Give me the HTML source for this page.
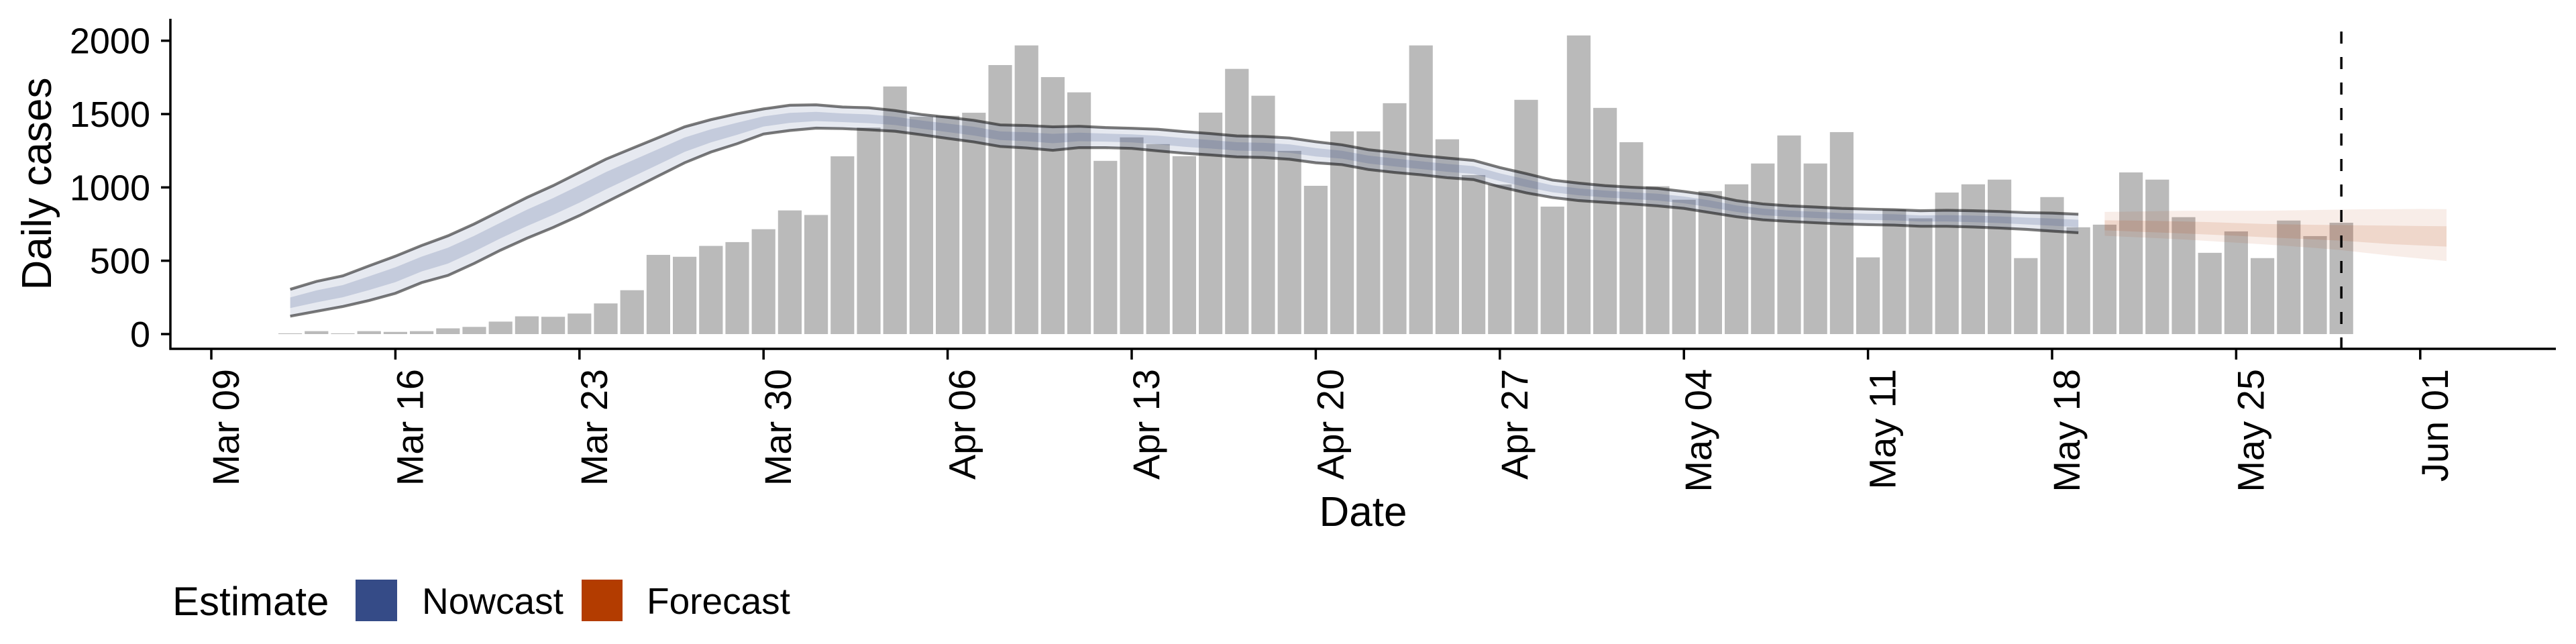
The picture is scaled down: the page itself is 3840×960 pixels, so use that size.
<!DOCTYPE html>
<html><head><meta charset="utf-8"><style>
html,body{margin:0;padding:0;background:#fff;}
svg{display:block;font-family:"Liberation Sans",sans-serif;}
</style></head><body>
<svg id="chart" width="3840" height="960" viewBox="0 0 3840 960" xmlns="http://www.w3.org/2000/svg">
<g id="bars"></g>
<g id="ribbons"></g>
<g id="axes"></g>
<text x="76" y="274" font-size="62" text-anchor="middle" transform="rotate(-90 76 274)">Daily cases</text>
<text x="2032" y="784" font-size="62" text-anchor="middle">Date</text>
<g>
<text x="257" y="917" font-size="60">Estimate</text>
<rect x="530" y="864" width="62" height="62" fill="#354b87"/>
<text x="629" y="915" font-size="55">Nowcast</text>
<rect x="867" y="864" width="61" height="62" fill="#b33c00"/>
<text x="964" y="915" font-size="55">Forecast</text>
</g>
</svg>
<script>
const startDayCases = 3; // Mar 12 = day 3 after Mar 09
const cases = [5,20,5,20,15,20,39,49,85,121,118,140,209,299,540,527,601,627,715,843,
812,1212,1408,1688,1482,1488,1509,1834,1968,1752,1648,1181,1341,1295,1213,1510,1808,1625,1249,1011,1382,1382,1574,1968,1328,1084,1020,1597,869,2036,
1542,1308,1008,916,975,1021,1163,1354,1163,1377,523,849,789,965,1021,1053,518,934,728,746,1102,1053,797,554,700,518,774,668,759];
const nowStart = 3;
const nowUpper90 = [305,359,397,465,531,604,670,751,841,931,1012,1102,1192,1266,1339,1413,1462,1502,1535,1560,1563,1548,1543,
1524,1497,1478,1457,1426,1422,1413,1417,1408,1403,1396,1380,1367,1351,1347,1337,1311,1290,1257,1238,1217,1200,1184,1135,1094,1050,1029,1012,1001,993,972,947,910,
887,874,866,857,852,848,841,844,841,836,828,825,817];
const nowLower90 = [122,155,188,229,278,351,400,482,572,653,727,808,898,988,1078,1168,1241,1298,1364,1388,1404,1401,1393,
1383,1359,1334,1310,1279,1269,1253,1271,1271,1266,1249,1233,1221,1208,1204,1192,1168,1155,1122,1102,1086,1066,1053,1004,963,931,910,898,887,874,857,828,800,
779,768,759,751,746,743,735,735,730,723,714,702,691];
const nowUpper50 = [250,298,334,394,455,528,589,670,760,848,927,1014,1104,1183,1261,1340,1396,1441,1484,1508,1515,1504,1498,
1482,1456,1435,1413,1382,1376,1365,1373,1367,1362,1352,1336,1323,1308,1304,1294,1268,1250,1217,1197,1178,1160,1145,1096,1055,1014,993,978,967,957,938,911,877,
855,842,834,825,820,817,809,811,808,802,794,788,779];
const nowLower50 = [177,216,251,300,354,427,481,563,653,736,813,896,986,1071,1156,1242,1307,1359,1415,1440,1452,1445,1438,
1425,1400,1377,1354,1323,1315,1301,1315,1312,1307,1293,1277,1265,1251,1247,1236,1211,1196,1163,1143,1125,1106,1092,1043,1002,967,946,932,921,910,892,864,833,
811,800,791,783,778,775,767,768,763,757,748,739,729];
const foreStart = 72;
const foreUpper90 = [833,835,838,841,841,841,841,843,846,849,851,852,853,852];
const foreLower90 = [670,662,654,645,634,623,612,600,587,572,552,532,515,498];
const foreUpper50 = [776,774,771,768,763,757,751,748,745,743,741,739,737,735];
const foreLower50 = [707,700,693,686,678,670,661,653,645,637,624,612,604,596];
const yTicks = [0,500,1000,1500,2000];
const xTickLabels = ["Mar 09","Mar 16","Mar 23","Mar 30","Apr 06","Apr 13","Apr 20","Apr 27","May 04","May 11","May 18","May 25","Jun 01"];
const cutoffDay = 81;

const NS = "http://www.w3.org/2000/svg";
const X0 = 315, DX = 39.2, Y0 = 498, KY = 0.21865;
const xs = d => X0 + DX * d;
const ys = v => Y0 - v * KY;
function mk(tag, attrs, parent) {
  const e = document.createElementNS(NS, tag);
  for (const k in attrs) e.setAttribute(k, attrs[k]);
  parent.appendChild(e);
  return e;
}
const gBars = document.getElementById('bars');
cases.forEach((v, i) => {
  const d = startDayCases + i;
  const r = mk('rect', {x: xs(d) - 17.6, y: ys(v), width: 35.2, height: Y0 - ys(v), fill: '#bababa'}, gBars);
  
  
});
const gR = document.getElementById('ribbons');
function area(start, up, lo, fill, name) {
  let p = '';
  up.forEach((v, i) => { p += (i ? 'L' : 'M') + xs(start + i) + ',' + ys(v); });
  for (let i = lo.length - 1; i >= 0; i--) p += 'L' + xs(start + i) + ',' + ys(lo[i]);
  const e = mk('path', {d: p + 'Z', fill: fill, stroke: 'none'}, gR);
  
  
}
function line(start, arr, name) {
  const p = arr.map((v, i) => (i ? 'L' : 'M') + xs(start + i) + ',' + ys(v)).join('');
  const e = mk('path', {d: p, fill: 'none', stroke: 'rgba(0,0,0,0.52)', 'stroke-width': 4.2}, gR);
  
  
}
area(nowStart, nowUpper90, nowLower90, 'rgba(53,75,135,0.12)', 'nowcast-ribbon-90');
area(nowStart, nowUpper50, nowLower50, 'rgba(53,75,135,0.19)', 'nowcast-ribbon-50');
line(nowStart, nowUpper90, 'nowcast-upper-line');
line(nowStart, nowLower90, 'nowcast-lower-line');
area(foreStart, foreUpper90, foreLower90, 'rgba(179,60,0,0.09)', 'forecast-ribbon-90');
area(foreStart, foreUpper50, foreLower50, 'rgba(179,60,0,0.12)', 'forecast-ribbon-50');

const gA = document.getElementById('axes');
const cut = mk('line', {x1: xs(cutoffDay), x2: xs(cutoffDay), y1: 47, y2: 520, stroke: '#000', 'stroke-width': 3.5, 'stroke-dasharray': '18,20'}, gA);


const ya = mk('line', {x1: 254, x2: 254, y1: 28, y2: 521.5, stroke: '#000', 'stroke-width': 3.5}, gA);


const xa = mk('line', {x1: 252.5, x2: 3810, y1: 520, y2: 520, stroke: '#000', 'stroke-width': 3.5}, gA);


yTicks.forEach(v => {
  const t = mk('line', {x1: 240, x2: 254, y1: ys(v), y2: ys(v), stroke: '#000', 'stroke-width': 3.5}, gA);
  
  
  const l = mk('text', {x: 224, y: ys(v) + 19, 'font-size': 54, 'text-anchor': 'end'}, gA);
  l.textContent = v;
  
  
});
xTickLabels.forEach((s, i) => {
  const x = xs(i * 7);
  const t = mk('line', {x1: x, x2: x, y1: 520, y2: 536, stroke: '#000', 'stroke-width': 3.5}, gA);
  
  
  const lx = x + 41, ly = 550;
  const l = mk('text', {x: lx, y: ly, 'font-size': 56, 'text-anchor': 'end', transform: 'rotate(-90 ' + lx + ' ' + ly + ')'}, gA);
  l.textContent = s;
  
  
});
</script>
</body></html>
